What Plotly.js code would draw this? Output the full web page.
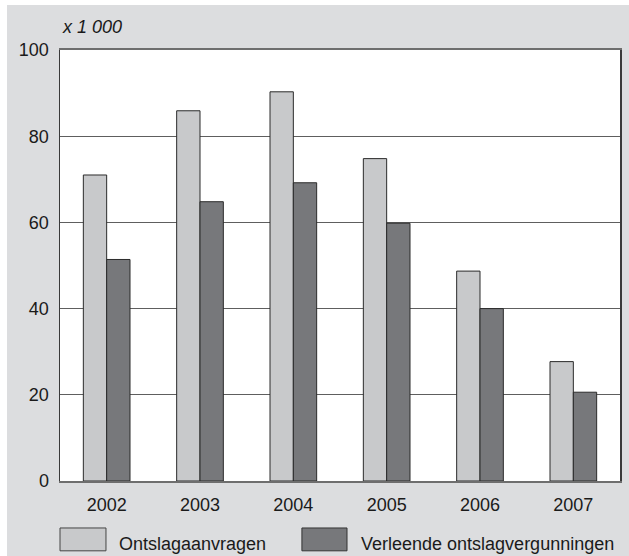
<!DOCTYPE html>
<html>
<head>
<meta charset="utf-8">
<script src="https://cdn.plot.ly/plotly-3.0.1.min.js"></script>
<style>
  html, body { margin: 0; padding: 0; background: #ffffff; }
  #wrap { position: absolute; left: 7px; top: 5px; width: 622px; height: 551px; }
  #chart { width: 622px; height: 551px; }
</style>
</head>
<body>
<div id="wrap"><div id="chart"></div></div>
<script>
const years = ['2002', '2003', '2004', '2005', '2006', '2007'];
const seriesNames = ['Ontslagaanvragen', 'Verleende ontslagvergunningen'];
const ontslagaanvragen = [71.0, 85.9, 90.3, 74.8, 48.7, 27.7];
const verleendeVergunningen = [51.4, 64.8, 69.2, 59.8, 40.0, 20.6];
const unitLabel = 'x 1 000';
const yTicks = [0, 20, 40, 60, 80, 100];

const lightFill = '#c8c9cb';
const darkFill = '#77787b';
const outline = '#2b2b2b';
const font = 'Liberation Sans, Arial, Helvetica, sans-serif';

const traces = [
  {type: 'bar', x: years, y: ontslagaanvragen, name: seriesNames[0],
   marker: {color: lightFill, line: {color: outline, width: 1}}, hoverinfo: 'x+y'},
  {type: 'bar', x: years, y: verleendeVergunningen, name: seriesNames[1],
   marker: {color: darkFill, line: {color: outline, width: 1}}, hoverinfo: 'x+y'}
];

const legendY0 = -0.109, legendY1 = -0.162, legendYText = -0.146;
const layout = {
  width: 622, height: 551,
  margin: {l: 53, r: 9, t: 45, b: 75},
  paper_bgcolor: '#dcdddf',
  plot_bgcolor: '#ffffff',
  font: {family: font, size: 18, color: '#1a1a1a'},
  barmode: 'group', bargap: 0.5, bargroupgap: 0,
  showlegend: false,
  xaxis: {
    type: 'category', showgrid: false, zeroline: false,
    showline: true, linecolor: '#6e6e6e', linewidth: 2, mirror: true,
    ticks: '', tickfont: {family: font, size: 18, color: '#1a1a1a'},
    ticklabelstandoff: 6
  },
  yaxis: {
    range: [0, 100], tickvals: yTicks, ticktext: yTicks.map(String),
    showgrid: true, gridcolor: '#5e5e5e', gridwidth: 1.3, zeroline: false,
    showline: true, linecolor: '#3a3a3a', linewidth: 1.5, mirror: true,
    ticks: '', tickfont: {family: font, size: 18, color: '#1a1a1a'},
    ticklabelstandoff: 6
  },
  annotations: [
    {text: unitLabel, xref: 'paper', yref: 'paper', x: 0, y: 1.053,
     xanchor: 'left', yanchor: 'middle', showarrow: false,
     font: {family: font, size: 18, style: 'italic', color: '#1a1a1a'}},
    {text: seriesNames[0], xref: 'paper', yref: 'paper', x: 0.1018, y: legendYText,
     xanchor: 'left', yanchor: 'middle', showarrow: false,
     font: {family: font, size: 18, color: '#1a1a1a'}},
    {text: seriesNames[1], xref: 'paper', yref: 'paper', x: 0.534, y: legendYText,
     xanchor: 'left', yanchor: 'middle', showarrow: false,
     font: {family: font, size: 18, color: '#1a1a1a'}}
  ],
  shapes: [
    {type: 'rect', xref: 'paper', yref: 'paper', x0: 0, x1: 0.0821, y0: legendY0, y1: legendY1,
     fillcolor: lightFill, line: {color: '#444', width: 1}},
    {type: 'rect', xref: 'paper', yref: 'paper', x0: 0.432, x1: 0.5125, y0: legendY0, y1: legendY1,
     fillcolor: darkFill, line: {color: '#333', width: 1}}
  ]
};

Plotly.newPlot('chart', traces, layout, {displayModeBar: false, staticPlot: true});
</script>
</body>
</html>
